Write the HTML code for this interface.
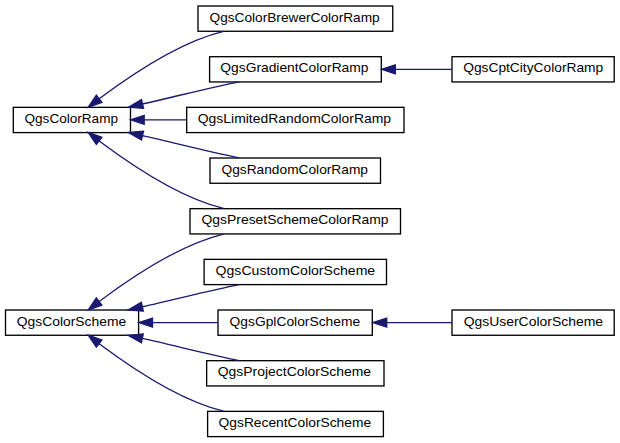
<!DOCTYPE html>
<html><head><meta charset="utf-8"><style>
html,body{margin:0;padding:0;background:#fff;overflow:hidden;}
svg{display:block;}
text{font-family:"Liberation Sans",sans-serif;font-size:12.9px;fill:#000;}
</style></head><body>
<svg width="620" height="443" viewBox="0 0 620 443">
<rect width="620" height="443" fill="#fff"/>
<rect x="198.00" y="6.02" width="194.75" height="25.25" fill="#fff" stroke="#000" stroke-width="1.33"/>
<text x="209.50" y="21.52" textLength="170.20" lengthAdjust="spacingAndGlyphs">QgsColorBrewerColorRamp</text>
<rect x="209.60" y="56.69" width="171.70" height="25.25" fill="#fff" stroke="#000" stroke-width="1.33"/>
<text x="220.30" y="72.19" textLength="148.20" lengthAdjust="spacingAndGlyphs">QgsGradientColorRamp</text>
<rect x="452.00" y="56.69" width="162.20" height="25.25" fill="#fff" stroke="#000" stroke-width="1.33"/>
<text x="463.20" y="72.19" textLength="140.00" lengthAdjust="spacingAndGlyphs">QgsCptCityColorRamp</text>
<rect x="13.30" y="107.35" width="117.20" height="25.25" fill="#fff" stroke="#000" stroke-width="1.33"/>
<text x="24.50" y="122.85" textLength="93.50" lengthAdjust="spacingAndGlyphs">QgsColorRamp</text>
<rect x="186.70" y="107.35" width="217.30" height="25.25" fill="#fff" stroke="#000" stroke-width="1.33"/>
<text x="197.80" y="122.85" textLength="193.30" lengthAdjust="spacingAndGlyphs">QgsLimitedRandomColorRamp</text>
<rect x="210.00" y="158.02" width="170.50" height="25.25" fill="#fff" stroke="#000" stroke-width="1.33"/>
<text x="221.50" y="173.52" textLength="146.50" lengthAdjust="spacingAndGlyphs">QgsRandomColorRamp</text>
<rect x="190.00" y="208.69" width="210.50" height="25.25" fill="#fff" stroke="#000" stroke-width="1.33"/>
<text x="201.50" y="224.19" textLength="187.00" lengthAdjust="spacingAndGlyphs">QgsPresetSchemeColorRamp</text>
<rect x="204.10" y="259.36" width="182.40" height="25.25" fill="#fff" stroke="#000" stroke-width="1.33"/>
<text x="215.60" y="274.86" textLength="159.60" lengthAdjust="spacingAndGlyphs">QgsCustomColorScheme</text>
<rect x="5.50" y="310.02" width="133.10" height="25.25" fill="#fff" stroke="#000" stroke-width="1.33"/>
<text x="16.70" y="325.52" textLength="109.60" lengthAdjust="spacingAndGlyphs">QgsColorScheme</text>
<rect x="218.00" y="310.02" width="154.30" height="25.25" fill="#fff" stroke="#000" stroke-width="1.33"/>
<text x="229.60" y="325.52" textLength="130.50" lengthAdjust="spacingAndGlyphs">QgsGplColorScheme</text>
<rect x="452.00" y="310.02" width="162.20" height="25.25" fill="#fff" stroke="#000" stroke-width="1.33"/>
<text x="463.70" y="325.52" textLength="139.30" lengthAdjust="spacingAndGlyphs">QgsUserColorScheme</text>
<rect x="206.65" y="360.69" width="177.35" height="25.25" fill="#fff" stroke="#000" stroke-width="1.33"/>
<text x="217.70" y="376.19" textLength="153.40" lengthAdjust="spacingAndGlyphs">QgsProjectColorScheme</text>
<rect x="207.60" y="411.36" width="175.80" height="25.25" fill="#fff" stroke="#000" stroke-width="1.33"/>
<text x="218.60" y="426.86" textLength="152.50" lengthAdjust="spacingAndGlyphs">QgsRecentColorScheme</text>
<path d="M223.5,31.3 C179.75,41.86 134.93,71.96 99.2,98.7" fill="none" stroke="#191970" stroke-width="1.33"/>
<polygon points="88.30,107.20 96.34,95.25 101.86,102.35" fill="#191970" stroke="#191970" stroke-width="1.33"/>
<path d="M239.2,81.8 C210,87.5 172,97.5 142.5,104" fill="none" stroke="#191970" stroke-width="1.33"/>
<polygon points="128.40,107.30 141.47,99.62 143.53,108.38" fill="#191970" stroke="#191970" stroke-width="1.33"/>
<path d="M186.7,119.8 L144.2,119.8" fill="none" stroke="#191970" stroke-width="1.33"/>
<polygon points="130.60,119.80 144.20,115.30 144.20,124.30" fill="#191970" stroke="#191970" stroke-width="1.33"/>
<path d="M239.20,157.90C210.00,152.20 172.00,142.20 142.50,135.70" fill="none" stroke="#191970" stroke-width="1.33"/>
<polygon points="128.40,132.40 143.53,131.32 141.47,140.08" fill="#191970" stroke="#191970" stroke-width="1.33"/>
<path d="M223.50,208.40C179.75,197.84 134.93,167.74 99.20,141.00" fill="none" stroke="#191970" stroke-width="1.33"/>
<polygon points="88.30,132.50 101.86,137.35 96.34,144.45" fill="#191970" stroke="#191970" stroke-width="1.33"/>
<path d="M451.6,69.3 L395.3,69.3" fill="none" stroke="#191970" stroke-width="1.33"/>
<polygon points="381.50,69.30 395.30,64.80 395.30,73.80" fill="#191970" stroke="#191970" stroke-width="1.33"/>
<path d="M223.50,234.05C179.75,244.61 134.93,274.71 99.20,301.45" fill="none" stroke="#191970" stroke-width="1.33"/>
<polygon points="88.30,309.95 96.34,298.00 101.86,305.10" fill="#191970" stroke="#191970" stroke-width="1.33"/>
<path d="M239.20,284.55C210.00,290.25 172.00,300.25 142.30,306.75" fill="none" stroke="#191970" stroke-width="1.33"/>
<polygon points="128.00,310.00 141.30,302.36 143.30,311.14" fill="#191970" stroke="#191970" stroke-width="1.33"/>
<path d="M218,322.6 L152.5,322.6" fill="none" stroke="#191970" stroke-width="1.33"/>
<polygon points="138.70,322.60 152.50,318.10 152.50,327.10" fill="#191970" stroke="#191970" stroke-width="1.33"/>
<path d="M239.20,360.65C210.00,354.95 172.00,344.95 142.30,338.45" fill="none" stroke="#191970" stroke-width="1.33"/>
<polygon points="128.00,335.30 143.27,334.06 141.33,342.84" fill="#191970" stroke="#191970" stroke-width="1.33"/>
<path d="M223.50,411.15C179.75,400.59 134.93,370.49 99.20,343.75" fill="none" stroke="#191970" stroke-width="1.33"/>
<polygon points="88.30,335.25 101.86,340.10 96.34,347.20" fill="#191970" stroke="#191970" stroke-width="1.33"/>
<path d="M452,322.6 L386.7,322.6" fill="none" stroke="#191970" stroke-width="1.33"/>
<polygon points="372.70,322.60 386.70,318.10 386.70,327.10" fill="#191970" stroke="#191970" stroke-width="1.33"/>
</svg>
</body></html>
